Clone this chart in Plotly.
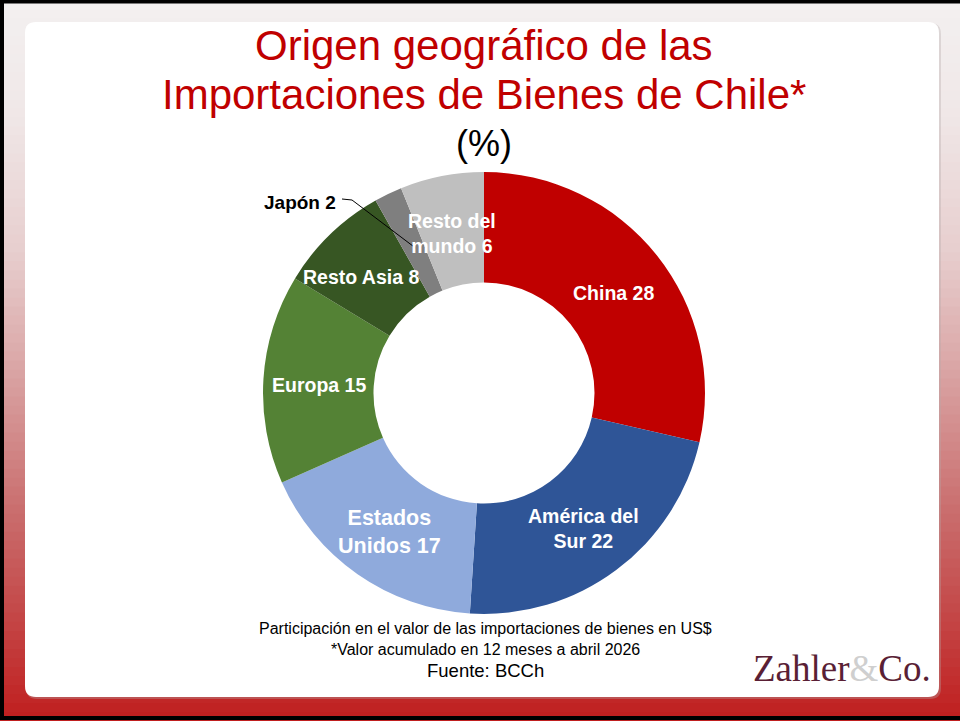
import math
import plotly.graph_objects as go

# ---------------- data ----------------
categories = ["China", "América del Sur", "Estados Unidos", "Europa",
              "Resto Asia", "Japón", "Resto del mundo"]
values = [28, 22, 17, 15, 8, 2, 6]
label_text = ["China", "América del<br>Sur", "Estados<br>Unidos", "Europa",
              "Resto Asia", "Japón", "Resto del<br>mundo"]
colors = ["#C00000", "#2F5597", "#8FAADC", "#548235",
          "#375623", "#7F7F7F", "#BFBFBF"]

title_lines = ["Origen geográfico de las", "Importaciones de Bienes de Chile*"]
subtitle = "(%)"
footer_lines = ["Participación en el valor de las importaciones de bienes en US$",
                "*Valor acumulado en 12 meses a abril 2026"]
source = "Fuente: BCCh"

# ---------------- layout helpers ----------------
W, H = 960, 721
def px(x):
    return x / W
def py(y):
    return 1 - y / H

CX, CY, R = 484, 393, 221  # pie centre and radius in pixels
FONT = "Arial, Liberation Sans, sans-serif"

fig = go.Figure()
fig.add_trace(go.Pie(
    labels=categories, values=values, sort=False, direction="clockwise",
    rotation=0, hole=0.5,
    marker=dict(colors=colors, line=dict(width=0)),
    textinfo="none", hoverinfo="label+value", showlegend=False,
    domain=dict(x=[px(CX - R), px(CX + R)], y=[py(CY + R), py(CY - R)]),
))

shapes = []
# background gradient (light at top to red at bottom)
stops = [(0.0, (243, 240, 240)), (0.15, (240, 232, 232)), (0.35, (231, 206, 206)),
         (0.5, (219, 168, 168)), (0.7, (202, 112, 112)), (0.85, (196, 72, 72)),
         (1.0, (192, 30, 30))]
def grad(t):
    for (t0, c0), (t1, c1) in zip(stops[:-1], stops[1:]):
        if t0 <= t <= t1:
            f = (t - t0) / (t1 - t0)
            return tuple(round(a + (b - a) * f) for a, b in zip(c0, c1))
    return stops[-1][1]
nb = 80
for i in range(nb):
    y0 = H * i / nb
    y1 = H * (i + 1) / nb + 1
    c = grad((i + 0.5) / nb)
    shapes.append(dict(type="rect", xref="paper", yref="paper", layer="below",
                       x0=0, x1=1, y0=py(min(y1, H)), y1=py(y0),
                       fillcolor=f"rgb{c}", line=dict(width=0)))

# white rounded card
def rounded_rect(x0, y0, x1, y1, r):
    return (f"M {px(x0+r)},{py(y0)} L {px(x1-r)},{py(y0)} "
            f"Q {px(x1)},{py(y0)} {px(x1)},{py(y0+r)} "
            f"L {px(x1)},{py(y1-r)} Q {px(x1)},{py(y1)} {px(x1-r)},{py(y1)} "
            f"L {px(x0+r)},{py(y1)} Q {px(x0)},{py(y1)} {px(x0)},{py(y1-r)} "
            f"L {px(x0)},{py(y0+r)} Q {px(x0)},{py(y0)} {px(x0+r)},{py(y0)} Z")
shapes.append(dict(type="path", xref="paper", yref="paper", layer="below",
                   path=rounded_rect(26, 23, 941, 699, 11),
                   fillcolor="rgba(180,170,170,0.35)", line=dict(width=0)))
shapes.append(dict(type="path", xref="paper", yref="paper", layer="below",
                   path=rounded_rect(25, 22, 939, 697, 11),
                   fillcolor="white", line=dict(width=0)))
# black frame (left, top, bottom)
shapes.append(dict(type="rect", xref="paper", yref="paper", layer="above",
                   x0=px(2), x1=px(975), y0=py(718), y1=py(1.5),
                   fillcolor="rgba(0,0,0,0)", line=dict(color="black", width=4)))

annotations = []
# titles
annotations.append(dict(text=title_lines[0], x=px(484), y=py(46), xref="paper", yref="paper",
                        showarrow=False, font=dict(family=FONT, size=42, color="#C00000"),
                        xanchor="center", yanchor="middle"))
annotations.append(dict(text=title_lines[1], x=px(484), y=py(95), xref="paper", yref="paper",
                        showarrow=False, font=dict(family=FONT, size=42, color="#C00000"),
                        xanchor="center", yanchor="middle"))
annotations.append(dict(text=subtitle, x=px(484), y=py(143), xref="paper", yref="paper",
                        showarrow=False, font=dict(family=FONT, size=36, color="black"),
                        xanchor="center", yanchor="middle"))

# slice labels positioned from the data (mid-angle of each slice)
total = sum(values)
cum = 0
for cat, txt, v in zip(categories, label_text, values):
    theta = math.radians((cum + v / 2) / total * 360)
    cum += v
    lx = CX + 0.75 * R * math.sin(theta)
    ly = CY - 0.75 * R * math.cos(theta)
    if cat == "Japón":
        annotations.append(dict(text=f"<b>{txt} {v}</b>", x=px(338), y=py(202),
                                xref="paper", yref="paper", showarrow=False,
                                font=dict(family=FONT, size=19, color="black"),
                                xanchor="right", yanchor="middle"))
        shapes.append(dict(type="path", xref="paper", yref="paper", layer="above",
                           path=f"M {px(342)},{py(199)} L {px(352)},{py(200)} L {px(lx + 3)},{py(ly + 4)}",
                           line=dict(color="black", width=1)))
        continue
    size = 21.5 if cat == "Estados Unidos" else 19.5
    dx = -8 if cat == "Resto Asia" else 0
    annotations.append(dict(text=f"<b>{txt} {v}</b>", x=px(lx + dx), y=py(ly + 3),
                            xref="paper", yref="paper", showarrow=False,
                            font=dict(family=FONT, size=size, color="white"),
                            xanchor="center", yanchor="middle"))

# footer
annotations.append(dict(text=footer_lines[0], x=px(485), y=py(628), xref="paper", yref="paper",
                        showarrow=False, font=dict(family=FONT, size=16, color="black"),
                        xanchor="center", yanchor="middle"))
annotations.append(dict(text=footer_lines[1], x=px(485), y=py(649), xref="paper", yref="paper",
                        showarrow=False, font=dict(family=FONT, size=16, color="black"),
                        xanchor="center", yanchor="middle"))
annotations.append(dict(text=source, x=px(485), y=py(670), xref="paper", yref="paper",
                        showarrow=False, font=dict(family=FONT, size=18.5, color="black"),
                        xanchor="center", yanchor="middle"))
# logo
annotations.append(dict(text="Zahler<span style='color:#cfcfcf'>&amp;</span>Co.",
                        x=px(842), y=py(668), xref="paper", yref="paper", showarrow=False,
                        font=dict(family="Liberation Serif, Times New Roman, serif", size=37,
                                  color="#5A1F35"),
                        xanchor="center", yanchor="middle"))

fig.update_layout(width=W, height=H, margin=dict(l=0, r=0, t=0, b=0),
                  paper_bgcolor="white", plot_bgcolor="white",
                  shapes=shapes, annotations=annotations)
fig.write_html("out.html", config={"displayModeBar": False},
               post_script="document.body.style.margin='0';document.body.style.overflow='hidden';")
